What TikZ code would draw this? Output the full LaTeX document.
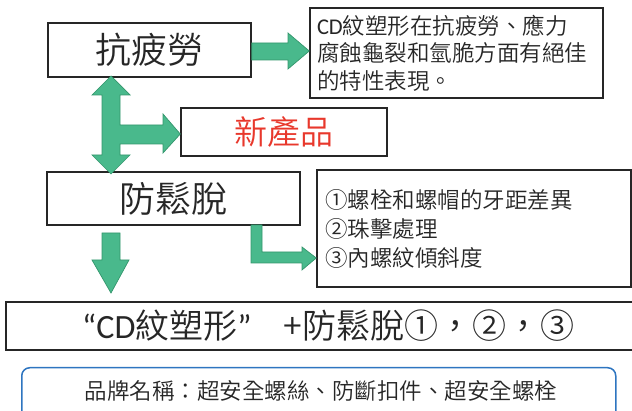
\documentclass[tikz,border=0pt]{standalone}
\usepackage{fontspec}
\setmainfont{Noto Sans CJK TC}[UprightFont=* DemiLight]
\newfontfamily\latinfont{Carlito}
\usetikzlibrary{calc}
\definecolor{txt}{HTML}{262626}
\definecolor{arrowfill}{HTML}{49B98C}
\definecolor{arrowline}{HTML}{33966C}
\definecolor{newred}{HTML}{E8382C}
\definecolor{brandblue}{HTML}{2E75C0}
\tikzset{
  boxed/.style={draw=txt, line width=1.5pt, rectangle, inner sep=0pt, text=txt},
  barrow/.style={fill=arrowfill, draw=arrowline, line width=0.7pt, line join=miter},
}
\begin{document}
\begin{tikzpicture}[x=1pt,y=-1pt]
\useasboundingbox (0,0) rectangle (632,411);
% boxes
\node[boxed, minimum width=203pt, minimum height=54pt, font=\fontsize{36}{40}\selectfont] (t1) at (149.5,50) {抗疲勞};
\node[boxed, minimum width=293pt, minimum height=90pt, text width=279pt, align=left, inner xsep=7pt, font=\fontsize{22.5}{27.5}\selectfont] (t2) at (456.5,53) {{\latinfont CD}紋塑形在抗疲勞、應力\\腐蝕龜裂和氫脆方面有絕佳\\的特性表現。};
\node[boxed, minimum width=206pt, minimum height=48pt, text=newred, font=\fontsize{33}{38}\selectfont] (tn) at (284,132) {新產品};
\node[boxed, minimum width=253pt, minimum height=53pt, font=\fontsize{36}{40}\selectfont] (t3) at (173.5,198.5) {防鬆脫};
\node[boxed, minimum width=314pt, minimum height=117pt, text width=298pt, align=left, inner xsep=8pt, font=\fontsize{22.5}{29}\selectfont] (t4) at (474,228.5) {①螺栓和螺帽的牙距差異\\②珠擊處理\\③內螺紋傾斜度};
\node[boxed, minimum width=640pt, minimum height=48pt, anchor=west] (t5) at (5,326) {};
\node[text=txt, font=\fontsize{34}{38}\selectfont, anchor=west, inner sep=0pt] (t5txt) at (82,326) {{\latinfont “CD}紋塑形{\latinfont ”}\hspace{32pt}+防鬆脫①，②，③};
\node[draw=brandblue, line width=1.5pt, rounded corners=8pt, minimum width=594pt, minimum height=60pt, anchor=north west, inner sep=0pt] (t6) at (21,367) {};
\node[text=txt, font=\fontsize{22.5}{26}\selectfont] (t6txt) at (321,391) {品牌名稱：超安全螺絲、防斷扣件、超安全螺栓};
% arrow: 抗疲勞 -> description
\draw[barrow] (t1.east |- 0,43) -- (288,43) -- (288,33) -- (t2.west |- 0,51) -- (288,69) -- (288,60) -- (t1.east |- 0,60) -- cycle;
% double arrow with branch to 新產品
\draw[barrow] (111,76) -- (130,95) -- (120,95) -- (120,125) -- (163,125) -- (163,114) -- (tn.west |- 0,134) -- (163,153) -- (163,144) -- (120,144) -- (120,155) -- (130,155) -- (111,174) -- (92,155) -- (102,155) -- (102,95) -- (92,95) -- cycle;
% down arrow to bottom box
\draw[barrow] (102,233) -- (120,233) -- (120,260) -- (129,260) -- (111,293) -- (92,260) -- (102,260) -- cycle;
% elbow arrow 防鬆脫 -> list
\draw[barrow] (251,225) -- (262,225) -- (262,252) -- (302,252) -- (302,247) -- (t4.west |- 0,258) -- (302,270) -- (302,263) -- (251,263) -- cycle;
\end{tikzpicture}
\end{document}
